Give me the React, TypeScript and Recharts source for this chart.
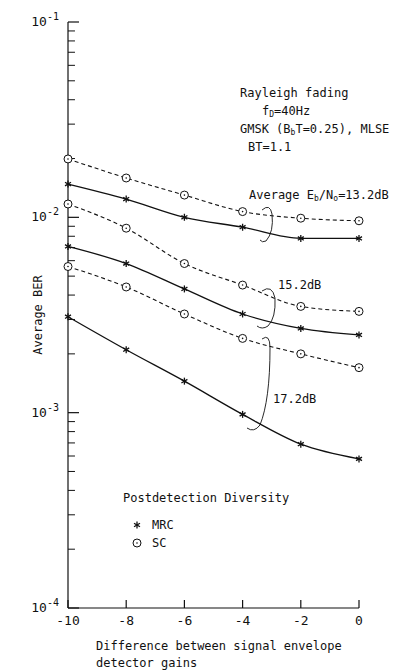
import React from "react";
import { LineChart, Line, XAxis, YAxis, ReferenceLine } from "recharts";

// gain difference (dB) on the x axis
const gains = [-10, -8, -6, -4, -2, 0];

// average BER, MRC (solid) and SC (dashed) for each Eb/No
const mrc132 = [0.0148, 0.0124, 0.01, 0.0089, 0.0078, 0.0078];
const sc132 = [0.0199, 0.0159, 0.013, 0.0107, 0.0099, 0.0096];
const mrc152 = [0.0071, 0.0058, 0.0043, 0.0032, 0.0027, 0.0025];
const sc152 = [0.0117, 0.0088, 0.0058, 0.0045, 0.0035, 0.0033];
const mrc172 = [0.0031, 0.0021, 0.00145, 0.00098, 0.00069, 0.00058];
const sc172 = [0.0056, 0.0044, 0.0032, 0.0024, 0.002, 0.0017];

const xTicks = [-10, -8, -6, -4, -2, 0];
const yTicks = [1e-4, 1e-3, 1e-2, 1e-1];
const yExponents = ["-4", "-3", "-2", "-1"];
const minorTicks = [1e-4, 1e-3, 1e-2].flatMap((d) =>
  [2, 3, 4, 5, 6, 7, 8, 9].map((m) => m * d)
);

const data = gains.map((x, i) => ({
  x,
  mrc132: mrc132[i],
  sc132: sc132[i],
  mrc152: mrc152[i],
  sc152: sc152[i],
  mrc172: mrc172[i],
  sc172: sc172[i],
}));

const FONT = '"DejaVu Sans Mono", monospace';
const INK = "#111";

const Star = (props: any) => {
  const { cx, cy } = props;
  if (cx == null || cy == null) return <g />;
  return (
    <g stroke={INK} strokeWidth={1.3}>
      <line x1={cx} y1={cy - 3.5} x2={cx} y2={cy + 3.5} />
      <line x1={cx - 3} y1={cy - 1.8} x2={cx + 3} y2={cy + 1.8} />
      <line x1={cx - 3} y1={cy + 1.8} x2={cx + 3} y2={cy - 1.8} />
    </g>
  );
};

const Ring = (props: any) => {
  const { cx, cy } = props;
  if (cx == null || cy == null) return <g />;
  return (
    <g>
      <circle cx={cx} cy={cy} r={4} fill="#fff" stroke={INK} strokeWidth={1} />
      <circle cx={cx} cy={cy} r={0.8} fill={INK} />
    </g>
  );
};

const XTick = (props: any) => {
  const { x, y, payload } = props;
  return (
    <g>
      <line x1={x} y1={y} x2={x} y2={y - 8} stroke={INK} strokeWidth={1.2} />
      <text x={x} y={y + 17} textAnchor="middle" fontFamily={FONT} fontSize={13} fill={INK}>
        {payload.value}
      </text>
    </g>
  );
};

const YTick = (props: any) => {
  const { x, y, payload } = props;
  const idx = yTicks.indexOf(payload.value);
  return (
    <g>
      <line x1={x} y1={y} x2={x + 11} y2={y} stroke={INK} strokeWidth={1.2} />
      <text x={x - 9} y={y + 4} textAnchor="end" fontFamily={FONT} fontSize={13} fill={INK}>
        10
        <tspan dy={-6} fontSize={10}>
          {yExponents[idx]}
        </tspan>
      </text>
    </g>
  );
};

const txt = { fontFamily: FONT, fontSize: 12, fill: INK } as const;

const App: React.FC = () => {
  return (
    <div style={{ position: "absolute", left: 0, top: 0, width: 393, height: 671, background: "#fff" }}>
      <LineChart
        width={393}
        height={671}
        data={data}
        margin={{ top: 22, right: 34, bottom: 0, left: 0 }}
      >
        <XAxis
          type="number"
          dataKey="x"
          domain={[-10, 0]}
          ticks={xTicks}
          height={63}
          tickSize={0}
          tickMargin={0}
          tick={<XTick />}
          axisLine={{ stroke: INK, strokeWidth: 1.2 }}
        />
        <YAxis
          scale="log"
          type="number"
          domain={[1e-4, 1e-1]}
          allowDataOverflow
          ticks={yTicks}
          width={68}
          tickSize={0}
          tickMargin={0}
          tick={<YTick />}
          axisLine={{ stroke: INK, strokeWidth: 1.2 }}
        />
        {minorTicks.map((v) => (
          <ReferenceLine
            key={v}
            segment={[
              { x: -10, y: v },
              { x: -9.76, y: v },
            ]}
            stroke={INK}
            strokeWidth={1}
          />
        ))}
        <Line type="monotone" dataKey="sc132" stroke={INK} strokeWidth={1.1} strokeDasharray="4 3" dot={<Ring />} isAnimationActive={false} />
        <Line type="monotone" dataKey="mrc132" stroke={INK} strokeWidth={1.3} dot={<Star />} isAnimationActive={false} />
        <Line type="monotone" dataKey="sc152" stroke={INK} strokeWidth={1.1} strokeDasharray="4 3" dot={<Ring />} isAnimationActive={false} />
        <Line type="monotone" dataKey="mrc152" stroke={INK} strokeWidth={1.3} dot={<Star />} isAnimationActive={false} />
        <Line type="monotone" dataKey="sc172" stroke={INK} strokeWidth={1.1} strokeDasharray="4 3" dot={<Ring />} isAnimationActive={false} />
        <Line type="monotone" dataKey="mrc172" stroke={INK} strokeWidth={1.3} dot={<Star />} isAnimationActive={false} />
      </LineChart>

      <svg
        width={393}
        height={671}
        style={{ position: "absolute", left: 0, top: 0, pointerEvents: "none" }}
      >
        {/* conditions */}
        <text x={240} y={97} {...txt}>Rayleigh fading</text>
        <text x={262} y={115} {...txt}>
          f<tspan dy={2} fontSize={8}>D</tspan>
          <tspan dy={-2}>=40Hz</tspan>
        </text>
        <text x={240} y={133} {...txt}>
          GMSK (B<tspan dy={2} fontSize={8}>b</tspan>
          <tspan dy={-2}>T=0.25), MLSE</tspan>
        </text>
        <text x={248} y={151} {...txt}>BT=1.1</text>

        {/* Eb/No group labels and brackets */}
        <text x={249} y={199} {...txt}>
          Average E<tspan dy={2} fontSize={8}>b</tspan>
          <tspan dy={-2}>/N</tspan>
          <tspan dy={2} fontSize={8}>o</tspan>
          <tspan dy={-2}>=13.2dB</tspan>
        </text>
        <path d="M 262 210 Q 270 203 272 214 Q 274 232 266 241 Q 262 243 260 240" fill="none" stroke={INK} strokeWidth={0.9} />
        <text x={278} y={289} {...txt}>15.2dB</text>
        <path d="M 262 291 Q 272 284 275 298 Q 276 318 268 326 Q 262 330 257 326" fill="none" stroke={INK} strokeWidth={0.9} />
        <text x={273} y={403} {...txt}>17.2dB</text>
        <path d="M 262 339 Q 270 333 270 348 Q 270 400 260 425 Q 254 433 247 428" fill="none" stroke={INK} strokeWidth={0.9} />

        {/* legend */}
        <text x={123} y={502} {...txt}>Postdetection Diversity</text>
        <Star cx={137} cy={525} />
        <text x={152} y={529} {...txt}>MRC</text>
        <Ring cx={137} cy={543} />
        <text x={152} y={547} {...txt}>SC</text>

        {/* axis titles */}
        <text x={0} y={0} transform="translate(42 315) rotate(-90)" textAnchor="middle" {...txt}>
          Average BER
        </text>
        <text x={96} y={650} {...txt}>Difference between signal envelope</text>
        <text x={96} y={667} {...txt}>detector gains</text>
      </svg>
    </div>
  );
};

export default App;
